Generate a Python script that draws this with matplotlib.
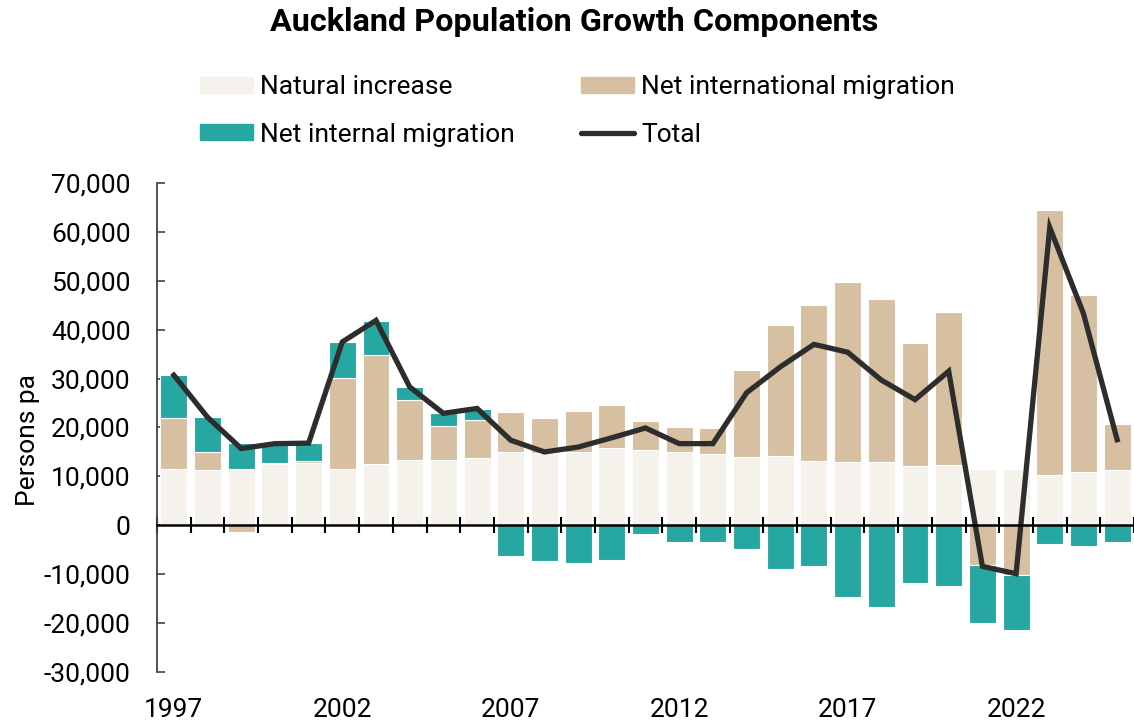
import numpy as np
import matplotlib
matplotlib.use("Agg")
import matplotlib.pyplot as plt
from matplotlib.lines import Line2D
from matplotlib.patches import Patch

plt.rcParams['font.family'] = ['Roboto', 'DejaVu Sans']

years = list(range(1997, 2026))
natural = [11500, 11300, 11500, 12600, 12800, 11500, 12500, 13400, 13400, 13800,
           14900, 14800, 14900, 15800, 15300, 14900, 14500, 13900, 14100, 13200,
           12900, 12900, 12100, 12300, 11500, 11500, 10200, 10800, 11300]
intl = [10400, 3600, -1400, 200, 400, 18600, 22300, 12300, 7000, 7800,
        8300, 7200, 8500, 8700, 6100, 5100, 5300, 17800, 26900, 31900,
        36800, 33300, 25100, 31400, -8200, -10200, 54300, 36300, 9500]
internal = [8800, 7200, 5300, 3900, 3600, 7400, 7000, 2600, 2500, 2200,
            -6200, -7300, -7700, -7000, -1800, -3500, -3500, -4800, -8900, -8300,
            -14700, -16700, -11800, -12500, -11800, -11300, -3900, -4300, -3500]
total = [30700, 22100, 15700, 16700, 16800, 37500, 41900, 28300, 22900, 23900,
         17400, 15000, 16000, 17900, 19900, 16700, 16700, 27100, 32400, 37000,
         35400, 29700, 25700, 31500, -8400, -9900, 60900, 43300, 17500]
year_labels = [1997, 2002, 2007, 2012, 2017, 2022]

c_nat = '#F5F2EB'
c_intl = '#D6C0A1'
c_int = '#26A7A1'
c_tot = '#2D2D2D'

fig = plt.figure(figsize=(11.34, 7.22), dpi=100)
ax = fig.add_axes([157/1134, 50/722, 977/1134, 489/722])

x = np.array(years)
pos = np.zeros(len(years))
neg = np.zeros(len(years))
# stack positives upward and negatives downward from zero
for vals, col in [(natural, c_nat), (intl, c_intl), (internal, c_int)]:
    v = np.array(vals, dtype=float)
    base = np.where(v >= 0, pos, neg)
    ax.bar(x, v, 0.8, bottom=base, color=col, edgecolor='white', linewidth=0.8, zorder=2)
    pos = pos + np.where(v >= 0, v, 0)
    neg = neg + np.where(v < 0, v, 0)

ax.plot(x, total, color=c_tot, lw=3.8, zorder=4, solid_joinstyle='miter')

ax.set_xlim(1996.5, 2025.5)
ax.set_ylim(-30000, 70000)
ax.set_yticks(range(-30000, 70001, 10000))
ax.yaxis.set_major_formatter(plt.FuncFormatter(lambda v, p: f'{int(v):,}'))
ax.tick_params(axis='y', direction='in', length=6, width=1.2, color='#444444',
               labelsize=19, pad=19)

for s in ['top', 'right']:
    ax.spines[s].set_visible(False)
ax.spines['left'].set_color('#444444')
ax.spines['left'].set_linewidth(1.3)
ax.spines['bottom'].set_position(('data', 0))
ax.spines['bottom'].set_color('black')
ax.spines['bottom'].set_linewidth(1.8)
ax.spines['bottom'].set_zorder(5)

ax.set_xticks([])
ax.set_xticks(np.arange(1996.5, 2025.6, 1), minor=True)
ax.tick_params(axis='x', which='minor', direction='inout', length=11, width=1.5,
               color='black', labelbottom=False)

# year labels sit at the bottom of the plot, not on the zero line
sec = ax.secondary_xaxis('bottom')
sec.set_xticks(year_labels, [str(y) for y in year_labels])
sec.tick_params(length=0, labelsize=19, pad=19)
for s in sec.spines.values():
    s.set_visible(False)

fig.text(28/1134, 1 - 440/722, 'Persons pa', rotation=90, ha='center', va='center', fontsize=19)

fig.suptitle('Auckland Population Growth Components', x=0.506, y=0.99,
             fontsize=23.3, fontweight='bold')

handles = [Patch(color=c_nat), Patch(color=c_int), Patch(color=c_intl),
           Line2D([0], [0], color=c_tot, lw=3.8, solid_capstyle='round')]
labels = ['Natural increase', 'Net internal migration', 'Net international migration', 'Total']
fig.legend(handles, labels, ncol=2, loc='upper left', bbox_to_anchor=(200/1134, 1 - 75/722),
           frameon=False, fontsize=19, borderpad=0, borderaxespad=0,
           handlelength=2.0, handleheight=0.55, handletextpad=0.28,
           columnspacing=2.5, labelspacing=0.9)

fig.savefig('out.png', dpi=100)
